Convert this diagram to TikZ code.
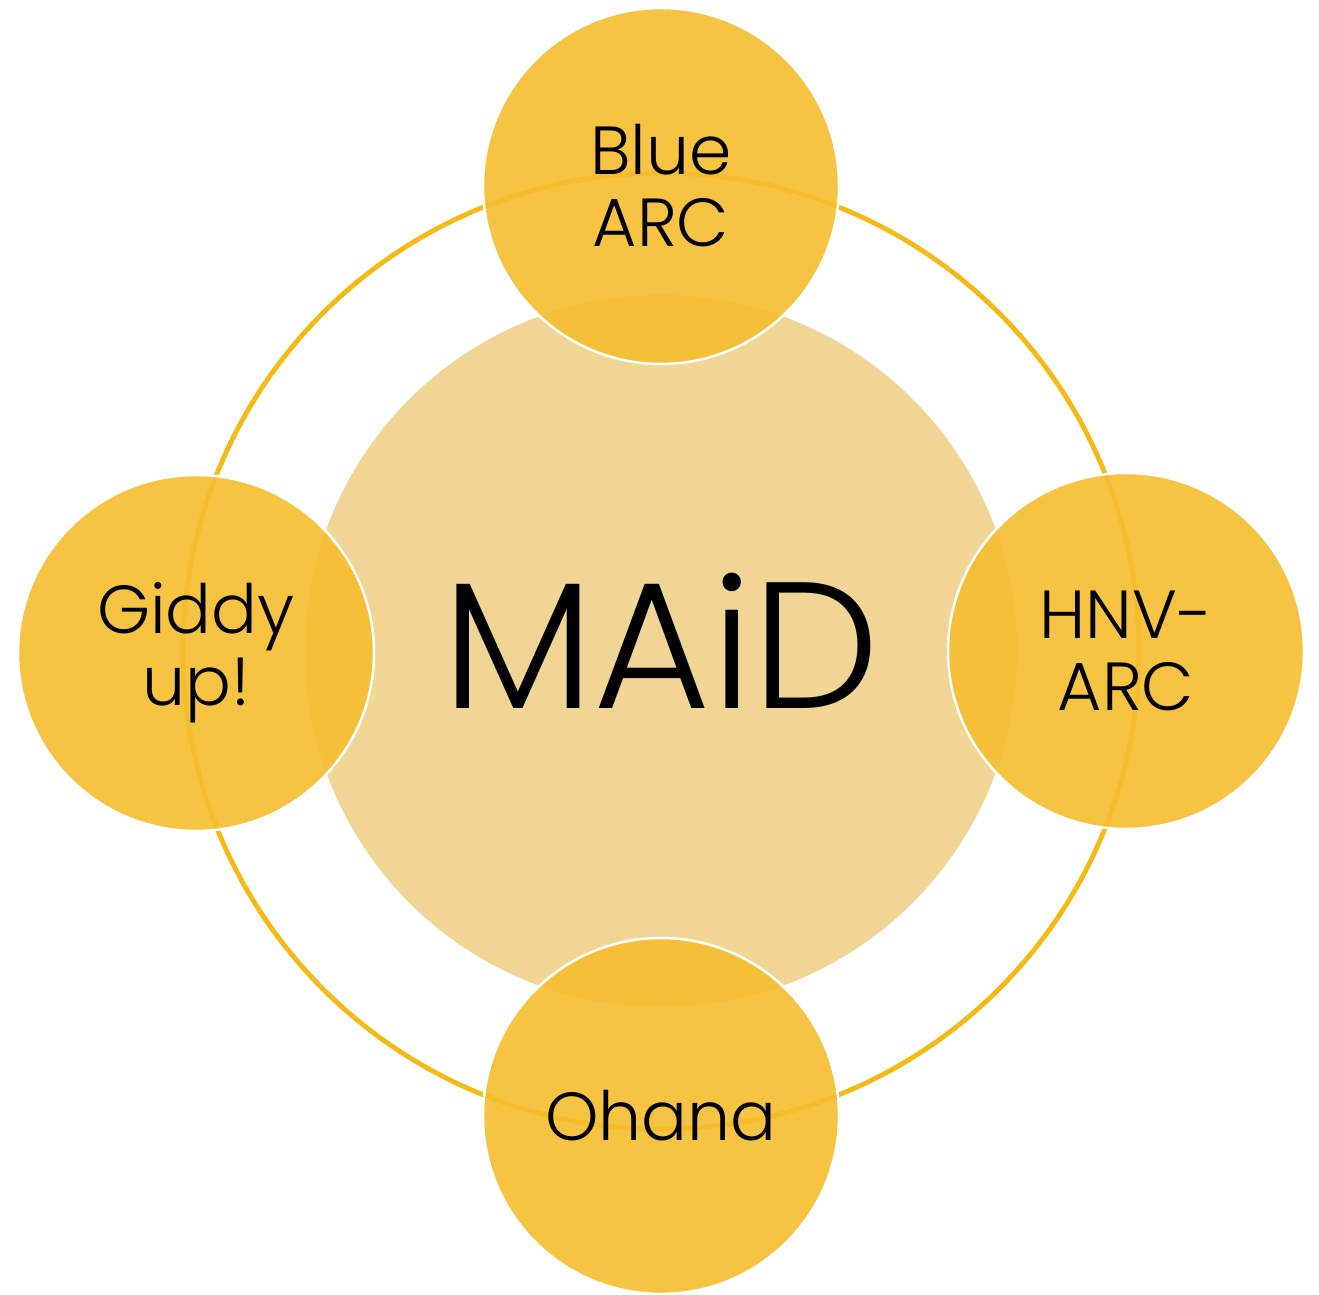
\documentclass[tikz,border=0pt]{standalone}
\usepackage{fontspec}
\setmainfont{Poppins}[UprightFont={* Light}]
\definecolor{ringcol}{HTML}{F5BA14}
\definecolor{corecol}{HTML}{F1D594}
\definecolor{satcol}{HTML}{F6BD2E}
\tikzset{
  ringline/.style={circle, draw=ringcol, line width=4.8pt, minimum size=956pt, inner sep=0pt},
  core/.style={circle, fill=corecol, minimum size=712pt, inner sep=0pt},
  coretext/.style={inner sep=0pt, anchor=base, font=\fontsize{180}{180}\selectfont},
  sat/.style={circle, fill=satcol, fill opacity=0.9, text opacity=1, draw=white,
    draw opacity=1, line width=2.5pt, minimum size=356pt, inner sep=0pt, align=center,
    font=\fontsize{68}{72}\selectfont}
}
\begin{document}
\begin{tikzpicture}[x=1pt,y=1pt]
\useasboundingbox (0,0) rectangle (1319,1294);
\node[ringline] (ring) at (661,643) {};
\node[core] (maid) at (661,643) {};
\node[coretext] (maidtext) at (661,585) {MAiD};
\node[sat] (blue) at (661,1108) {Blue\\ARC};
\node[sat] (giddy) at (196,641) {Giddy\\up!};
\node[sat] (hnv) at (1126,643) {HNV-\\ARC};
\node[sat] (ohana) at (661,178) {Ohana};
\end{tikzpicture}
\end{document}
